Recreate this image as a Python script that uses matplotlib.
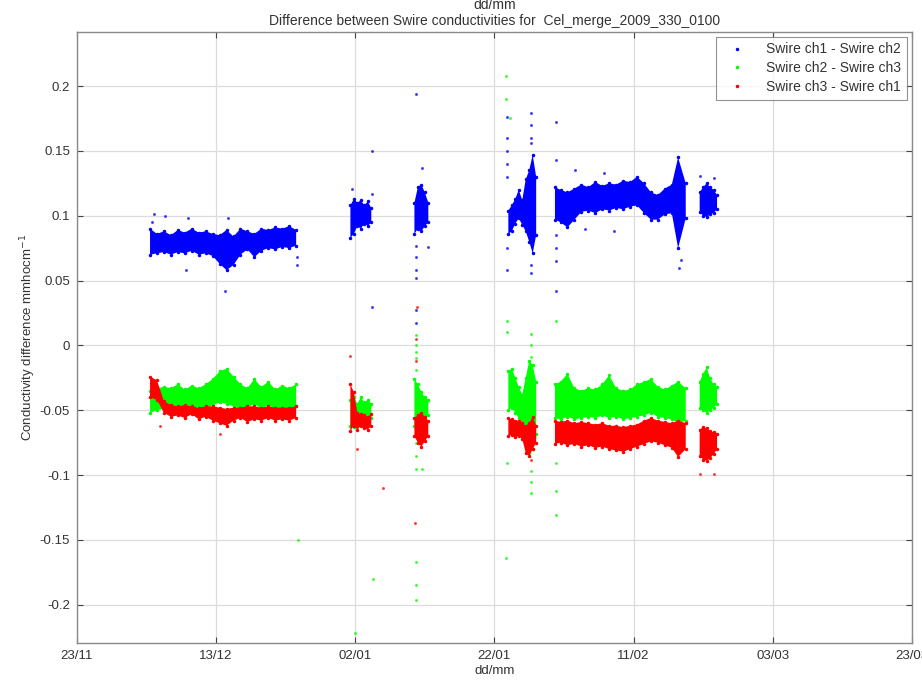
import numpy as np
import matplotlib
matplotlib.use('Agg')
import matplotlib.pyplot as plt
import matplotlib.dates as mdates
from matplotlib.lines import Line2D
from datetime import datetime

plt.rcParams['font.family'] = ['Liberation Sans', 'DejaVu Sans']

# days after 23/11/2009; nan splits the record into its separate pieces
nan = np.nan
t_days = [10.5, 11.5, 12.5, 13.5, 14.5, 15.5, 16.5, 17.5, 18.5, 19.5, 20.5,
          21.5, 22.5, 23.5, 24.5, 25.5, 26.5, 27.5, 28.5, 29.5, 30.5, 31.5, nan,
          39.3, 39.8, 40.3, 40.8, 41.3, 41.8, 42.3, nan,
          48.5, 49.0, 49.5, 50.0, 50.5, nan,
          62.0, 62.5, 63.0, 63.5, 64.0, 64.5, 65.0, 65.5, 66.0, nan,
          68.7, 69.5, 70.5, 71.5, 72.5, 73.5, 74.5, 75.5, 76.5, 77.5, 78.5,
          79.5, 80.5, 81.5, 82.5, 83.5, 84.5, 85.5, 86.4, 87.5, nan,
          89.5, 90.0, 90.5, 91.0, 91.5, 92.0]

# ch1 - ch2 (blue) lower / upper edge of the cloud
blue_lo = [0.070, 0.071, 0.072, 0.070, 0.072, 0.071, 0.073, 0.070, 0.071, 0.069, 0.063,
           0.058, 0.062, 0.070, 0.074, 0.068, 0.073, 0.075, 0.074, 0.076, 0.075, 0.077, nan,
           0.083, 0.086, 0.092, 0.090, 0.094, 0.092, 0.095, nan,
           0.086, 0.090, 0.088, 0.092, 0.095, nan,
           0.086, 0.088, 0.094, 0.098, 0.093, 0.088, 0.080, 0.071, 0.085, nan,
           0.097, 0.095, 0.091, 0.097, 0.103, 0.104, 0.102, 0.105, 0.104, 0.106, 0.105,
           0.107, 0.108, 0.102, 0.097, 0.097, 0.101, 0.102, 0.075, 0.098, nan,
           0.103, 0.100, 0.099, 0.101, 0.102, 0.105]
blue_hi = [0.090, 0.086, 0.088, 0.085, 0.089, 0.087, 0.090, 0.087, 0.088, 0.086, 0.085,
           0.089, 0.084, 0.090, 0.088, 0.086, 0.090, 0.089, 0.091, 0.090, 0.092, 0.089, nan,
           0.108, 0.113, 0.110, 0.112, 0.108, 0.111, 0.106, nan,
           0.110, 0.122, 0.124, 0.118, 0.110, nan,
           0.104, 0.108, 0.113, 0.120, 0.112, 0.128, 0.135, 0.147, 0.130, nan,
           0.122, 0.120, 0.118, 0.121, 0.124, 0.122, 0.126, 0.123, 0.125, 0.124, 0.127,
           0.126, 0.130, 0.125, 0.118, 0.116, 0.121, 0.124, 0.145, 0.125, nan,
           0.118, 0.122, 0.125, 0.122, 0.120, 0.116]

# ch2 - ch3 (green)
green_lo = [-0.052, -0.050, -0.049, -0.048, -0.050, -0.048, -0.049, -0.047, -0.049, -0.046, -0.044,
            -0.045, -0.047, -0.049, -0.048, -0.045, -0.049, -0.046, -0.049, -0.048, -0.049, -0.047, nan,
            -0.062, -0.063, -0.060, -0.058, -0.060, -0.058, -0.056, nan,
            -0.062, -0.060, -0.058, -0.056, -0.054, nan,
            -0.050, -0.048, -0.052, -0.056, -0.060, -0.065, -0.083, -0.080, -0.068, nan,
            -0.056, -0.057, -0.055, -0.057, -0.056, -0.055, -0.056, -0.054, -0.056, -0.055, -0.057,
            -0.056, -0.055, -0.054, -0.052, -0.055, -0.056, -0.057, -0.060, -0.058, nan,
            -0.048, -0.050, -0.052, -0.050, -0.048, -0.045]
green_hi = [-0.035, -0.033, -0.032, -0.033, -0.030, -0.034, -0.031, -0.033, -0.030, -0.026, -0.020,
            -0.018, -0.024, -0.030, -0.033, -0.026, -0.032, -0.028, -0.034, -0.031, -0.033, -0.030, nan,
            -0.042, -0.040, -0.045, -0.040, -0.044, -0.042, -0.045, nan,
            -0.026, -0.030, -0.036, -0.040, -0.042, nan,
            -0.020, -0.018, -0.025, -0.032, -0.038, -0.025, -0.012, -0.015, -0.028, nan,
            -0.030, -0.028, -0.022, -0.033, -0.035, -0.033, -0.034, -0.030, -0.023, -0.033, -0.035,
            -0.034, -0.030, -0.028, -0.026, -0.032, -0.034, -0.031, -0.028, -0.033, nan,
            -0.028, -0.022, -0.017, -0.025, -0.030, -0.032]

# ch3 - ch1 (red)
red_lo = [-0.040, -0.042, -0.052, -0.055, -0.054, -0.056, -0.053, -0.057, -0.055, -0.058, -0.060,
          -0.062, -0.058, -0.056, -0.059, -0.057, -0.058, -0.056, -0.058, -0.057, -0.058, -0.056, nan,
          -0.066, -0.062, -0.065, -0.062, -0.064, -0.065, -0.062, nan,
          -0.070, -0.075, -0.078, -0.074, -0.070, nan,
          -0.070, -0.069, -0.071, -0.070, -0.072, -0.083, -0.085, -0.080, -0.075, nan,
          -0.076, -0.075, -0.077, -0.076, -0.078, -0.077, -0.079, -0.078, -0.080, -0.081, -0.082,
          -0.080, -0.078, -0.076, -0.074, -0.075, -0.077, -0.079, -0.086, -0.080, nan,
          -0.085, -0.088, -0.089, -0.087, -0.084, -0.080]
red_hi = [-0.024, -0.027, -0.043, -0.046, -0.047, -0.046, -0.047, -0.048, -0.047, -0.047, -0.048,
          -0.049, -0.048, -0.048, -0.047, -0.047, -0.048, -0.047, -0.048, -0.048, -0.048, -0.047, nan,
          -0.030, -0.036, -0.052, -0.053, -0.054, -0.055, -0.053, nan,
          -0.056, -0.054, -0.052, -0.055, -0.058, nan,
          -0.056, -0.057, -0.058, -0.058, -0.060, -0.062, -0.060, -0.055, -0.062, nan,
          -0.058, -0.059, -0.058, -0.060, -0.059, -0.060, -0.061, -0.060, -0.062, -0.062, -0.063,
          -0.062, -0.061, -0.058, -0.056, -0.058, -0.059, -0.060, -0.058, -0.060, nan,
          -0.065, -0.063, -0.064, -0.066, -0.067, -0.068]

# isolated points away from the clouds
blue_out_t = [10.8, 11.0, 12.7, 16.0, 21.7, 21.3, 15.7, 31.6, 31.6, 39.5, 42.4, 42.4, 42.4,
              48.7, 49.6, 48.7, 48.7, 48.7, 48.7, 48.7, 48.7, 50.4,
              61.8, 61.8, 61.8, 61.8, 61.8, 61.8, 61.8, 65.3, 65.3, 65.3, 65.3, 65.3, 65.3,
              68.8, 68.8, 68.8, 68.8, 68.8, 68.8, 86.5, 86.8, 89.6, 91.5, 71.6, 75.8, 73.0, 77.2]
blue_out_v = [0.095, 0.101, 0.0996, 0.098, 0.098, 0.042, 0.058, 0.068, 0.062, 0.121, 0.117, 0.150, 0.030,
              0.194, 0.137, 0.077, 0.068, 0.058, 0.052, 0.027, 0.017, 0.076,
              0.176, 0.160, 0.150, 0.140, 0.130, 0.075, 0.058, 0.179, 0.170, 0.160, 0.156, 0.062, 0.056,
              0.172, 0.143, 0.085, 0.075, 0.065, 0.042, 0.060, 0.066, 0.131, 0.129, 0.135, 0.133, 0.090, 0.088]
green_out_t = [48.7, 48.7, 48.7, 48.7, 48.7, 48.7, 48.7, 48.7, 49.6, 48.7, 48.7, 48.7,
               61.8, 61.8, 61.8, 61.7, 61.7, 65.3, 65.3, 65.3, 65.3, 65.3, 65.3,
               68.8, 68.8, 68.8, 68.8, 31.7, 61.6, 42.6, 40.0, 62.3]
green_out_v = [0.008, 0.000, -0.005, -0.010, -0.019, -0.075, -0.085, -0.095, -0.095, -0.167, -0.185, -0.196,
               0.019, 0.010, -0.091, 0.208, 0.190, 0.009, 0.000, -0.009, -0.097, -0.105, -0.114,
               0.019, -0.091, -0.112, -0.131, -0.150, -0.164, -0.180, -0.222, 0.175]
red_out_t = [48.7, 48.7, 48.6, 39.3, 40.2, 44.0, 48.8, 65.3, 89.6, 91.5, 20.5, 12.0]
red_out_v = [0.005, -0.012, -0.137, -0.008, -0.080, -0.110, 0.030, -0.088, -0.099, -0.099, -0.068, -0.062]

tick_days = [0, 20, 40, 60, 80, 100, 120]

base = mdates.date2num(datetime(2009, 11, 23))
x = base + np.array(t_days)

fig = plt.figure(figsize=(9.22, 6.85), dpi=100)
ax = fig.add_axes([0.0835, 0.0613, 0.9055, 0.892])

series = [('Swire ch1 - Swire ch2', (0, 0, 1), blue_lo, blue_hi, blue_out_t, blue_out_v),
          ('Swire ch2 - Swire ch3', (0, 1, 0), green_lo, green_hi, green_out_t, green_out_v),
          ('Swire ch3 - Swire ch1', (1, 0, 0), red_lo, red_hi, red_out_t, red_out_v)]

handles = []
for z, (name, col, lo, hi, ot, ov) in enumerate(series):
    lo = np.array(lo)
    hi = np.array(hi)
    ok = ~np.isnan(lo)
    ax.fill_between(x, lo, hi, where=ok, color=col, lw=0, zorder=3 + z)
    # ragged edges of the point cloud
    ax.plot(x, lo, '.', color=col, ms=3, zorder=3 + z)
    ax.plot(x, hi, '.', color=col, ms=3, zorder=3 + z)
    ax.plot(base + np.array(ot), ov, '.', color=col, ms=2.5, alpha=0.6, zorder=3 + z)
    handles.append(Line2D([], [], ls='none', marker='.', ms=3, color=col, label=name))

ax.set_xlim(base, base + 120)
ax.set_ylim(-0.2295, 0.2417)
ax.set_xticks(base + np.array(tick_days))
ax.xaxis.set_major_formatter(mdates.DateFormatter('%d/%m'))
ax.set_yticks(np.arange(-0.2, 0.201, 0.05))
ax.set_yticklabels(['-0.2', '-0.15', '-0.1', '-0.05', '0', '0.05', '0.1', '0.15', '0.2'])
ax.grid(True, color='#dcdcdc', lw=0.9, zorder=0)
ax.set_axisbelow(True)
ax.tick_params(direction='in', length=4, top=True, right=True, labelsize=9.5,
               colors='#444444', labelcolor='#333333', pad=5)
for s in ax.spines.values():
    s.set_color('#8a8a8a')
    s.set_linewidth(1.0)

ax.set_xlabel('dd/mm', fontsize=9.5, color='#333333', labelpad=2)
ax.set_ylabel('Conductivity difference mmhocm$^{-1}$', fontsize=9.5, color='#333333', labelpad=1)
ax.set_title('dd/mm\nDifference between Swire conductivities for  Cel_merge_2009_330_0100',
             fontsize=10, color='#333333', pad=5, linespacing=1.15)

leg = ax.legend(handles=handles, loc='upper right', fontsize=10, frameon=True, fancybox=False,
                handlelength=2.2, handletextpad=1.0, borderpad=0.4, labelspacing=0.35,
                borderaxespad=0.35)
leg.get_frame().set_edgecolor('#777777')
leg.get_frame().set_linewidth(0.8)
for tx in leg.get_texts():
    tx.set_color('#333333')

fig.savefig('out.png', dpi=100)
